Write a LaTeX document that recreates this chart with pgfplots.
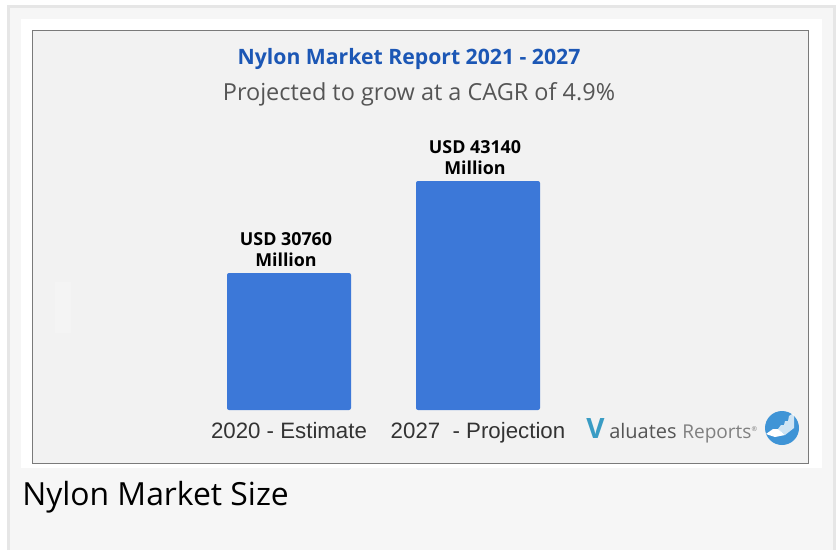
\documentclass[border=0pt]{standalone}
\usepackage{pgfplots}
\pgfplotsset{compat=1.18}
\usepackage{fontspec}
\setmainfont{Open Sans}
\newfontfamily\arialfont{Liberation Sans}
\definecolor{pagebg}{HTML}{F6F6F6}
\definecolor{pageedge}{HTML}{E6E6E6}
\definecolor{panel}{HTML}{F2F2F2}
\definecolor{framecol}{HTML}{7A7A7A}
\definecolor{barblue}{HTML}{3C78D8}
\definecolor{titleblue}{HTML}{1C57B5}
\definecolor{subgray}{HTML}{555555}
\definecolor{ticktext}{HTML}{333333}
\definecolor{logoteal}{HTML}{3A9CC4}
\definecolor{logodark}{HTML}{555555}
\definecolor{logolight}{HTML}{808080}
\definecolor{logoblue}{HTML}{3F94D6}
\begin{document}
\begin{tikzpicture}
    % page, white card and grey panel, in reference pixels
    \begin{scope}[x=0.75pt,y=-0.75pt]
    \path[use as bounding box] (0,0) rectangle (838,550);
    \fill[white] (0,0) rectangle (838,550);
    \fill[pageedge] (7,5) rectangle (836,550);
    \fill[pagebg] (10,8) rectangle (833,550);
    \fill[white] (21,19) rectangle (822,468);
    \filldraw[fill=panel,draw=framecol,line width=0.75pt] (32.5,30.5) rectangle (808,463);
    \fill[panel!85!white] (55,282) rectangle (71,333);
    \end{scope}

    \begin{axis}[
        at={(24.75pt,-307.5pt)},
        anchor=south west,
        scale only axis,
        width=581.25pt,
        height=285pt,
        axis lines=none,
        clip=false,
        xmin=-1.3545, xmax=2.746,
        ymin=12324, ymax=63461,
        ybar,
        bar width=0.656,
        bar shift=0pt,
        /pgf/number format/assume math mode=true,
    ]
    \addplot[
        fill=barblue,
        draw=none,
        rounded corners=1.5pt,
        nodes near coords={USD \pgfmathprintnumber[fixed,1000 sep={}]{\pgfplotspointmeta}\\Million},
        nodes near coords style={
            font=\bfseries\fontsize{13.4}{16}\selectfont,
            text=black,
            align=center,
            anchor=south,
            inner sep=0pt,
            xshift=-2.25pt,
            yshift=4.5pt,
        },
    ] coordinates {
        (0, 30760)
        (1, 43140)
    };
    \end{axis}

    \begin{scope}[x=0.75pt,y=-0.75pt]
    % category names sit inside the panel, not at the axis
    \node[anchor=base,text=ticktext,font=\arialfont\fontsize{16.7}{20}\selectfont] at (289,438.5) {2020 - Estimate};
    \node[anchor=base,text=ticktext,font=\arialfont\fontsize{16.7}{20}\selectfont] at (478,438.5) {2027\ \ - Projection};

    \node[anchor=base,text=titleblue,font=\bfseries\fontsize{15.9}{19}\selectfont] at (409,64.5) {Nylon Market Report 2021 - 2027};
    \node[anchor=base,text=subgray,font=\fontsize{17.6}{21}\selectfont] at (419,100.5) {Projected to grow at a CAGR of 4.9\%};
    \node[anchor=base west,inner sep=0pt,text=black,font=\fontsize{23.9}{28}\selectfont] at (22,505) {Nylon Market Size};

    % logo
    \node[anchor=base west,inner sep=0pt,text=logoteal,font=\bfseries\fontsize{21}{24}\selectfont] at (586,438) {V};
    \node[anchor=base west,inner sep=0pt,text=logodark,font=\fontsize{15}{18}\selectfont] at (609,438) {aluates};
    \node[anchor=base west,inner sep=0pt,text=logolight,font=\fontsize{14.3}{17}\selectfont] at (682,438) {Reports\textsuperscript{\tiny\textregistered}};
    \fill[logoblue] (782,428) circle (17);
    \fill[white] (766,434) -- (773,429) -- (778,429) -- (785,435) -- (775,437) -- cycle;
    \fill[white,opacity=0.75] (778,429) -- (781,425) -- (784,425) -- (785,421) -- (788,421) -- (789,416) -- (792,414) -- (794,414) -- (794,428) -- (785,435) -- cycle;
    \end{scope}
\end{tikzpicture}
\end{document}
